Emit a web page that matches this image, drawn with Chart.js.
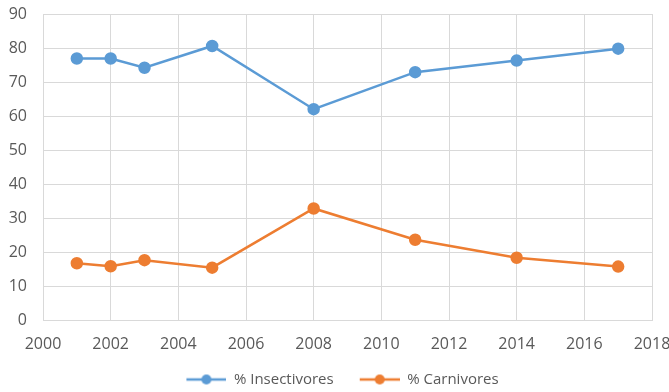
<!DOCTYPE html>
<html>
<head>
<meta charset="utf-8">
<script src="https://cdn.jsdelivr.net/npm/chart.js@4/dist/chart.umd.min.js"></script>
<style>
  html, body { margin: 0; padding: 0; background: #fff; }
  #wrap { width: 669px; height: 392px; }
</style>
</head>
<body>
<div id="wrap"><canvas id="myChart" width="669" height="392"></canvas></div>
<script>
var years = [2001, 2002, 2003, 2005, 2008, 2011, 2014, 2017];
var insectivores = [76.9, 76.9, 74.2, 80.6, 62.0, 72.9, 76.3, 79.8];
var carnivores = [16.7, 15.8, 17.6, 15.4, 32.8, 23.6, 18.3, 15.7];
var seriesNames = ["% Insectivores", "% Carnivores"];
var seriesColors = ["#5B9BD5", "#ED7D31"];

// legend marker: short line with a dot, with some empty room on the left
function legendMarker(color) {
  var c = document.createElement("canvas");
  c.width = 56; c.height = 12;
  var g = c.getContext("2d");
  g.strokeStyle = color;
  g.lineWidth = 2.5;
  g.beginPath(); g.moveTo(16, 6); g.lineTo(56, 6); g.stroke();
  g.fillStyle = color;
  g.beginPath(); g.arc(36, 6, 5, 0, Math.PI * 2); g.fill();
  return c;
}

function toPoints(vals) {
  return years.map(function (y, i) { return { x: y, y: vals[i] }; });
}

var tickFont = { family: 'Open Sans', size: 16 };

var ctx = document.getElementById("myChart").getContext('2d');
var chart = new Chart(ctx, {
  type: 'line',
  data: {
    datasets: [{
      label: seriesNames[0],
      data: toPoints(insectivores),
      borderColor: seriesColors[0],
      backgroundColor: seriesColors[0],
      borderWidth: 2.5,
      pointRadius: 5,
      tension: 0
    }, {
      label: seriesNames[1],
      data: toPoints(carnivores),
      borderColor: seriesColors[1],
      backgroundColor: seriesColors[1],
      borderWidth: 2.5,
      pointRadius: 5,
      tension: 0
    }]
  },
  options: {
    responsive: false,
    animation: false,
    layout: { padding: { top: 14, right: 0, left: 0, bottom: -5 } },
    scales: {
      x: {
        type: 'linear',
        min: 2000,
        max: 2018,
        ticks: {
          stepSize: 2,
          color: '#595959',
          font: tickFont,
          callback: function (v) { return String(v); },
          padding: 15
        },
        grid: { color: '#d9d9d9', drawTicks: false },
        border: { color: '#d9d9d9' },
        afterFit: function (s) {
          s.height = 42;
          s.paddingRight = 17;
          s.paddingLeft = 0;
        }
      },
      y: {
        min: 0,
        max: 90,
        ticks: {
          stepSize: 10,
          color: '#595959',
          font: tickFont,
          padding: 16
        },
        grid: { color: '#d9d9d9', drawTicks: false },
        border: { color: '#d9d9d9' },
        afterFit: function (s) {
          s.width = 43;
          s.paddingTop = 0;
          s.paddingBottom = 0;
        }
      }
    },
    plugins: {
      legend: {
        position: 'bottom',
        labels: {
          usePointStyle: true,
          pointStyleWidth: 56,
          color: '#595959',
          font: { family: 'Open Sans', size: 15 },
          padding: 10,
          generateLabels: function (ch) {
            var items = Chart.defaults.plugins.legend.labels.generateLabels(ch);
            items.forEach(function (it, i) { it.pointStyle = legendMarker(seriesColors[i]); });
            return items;
          }
        }
      },
      tooltip: { enabled: false }
    }
  }
});
</script>
</body>
</html>
